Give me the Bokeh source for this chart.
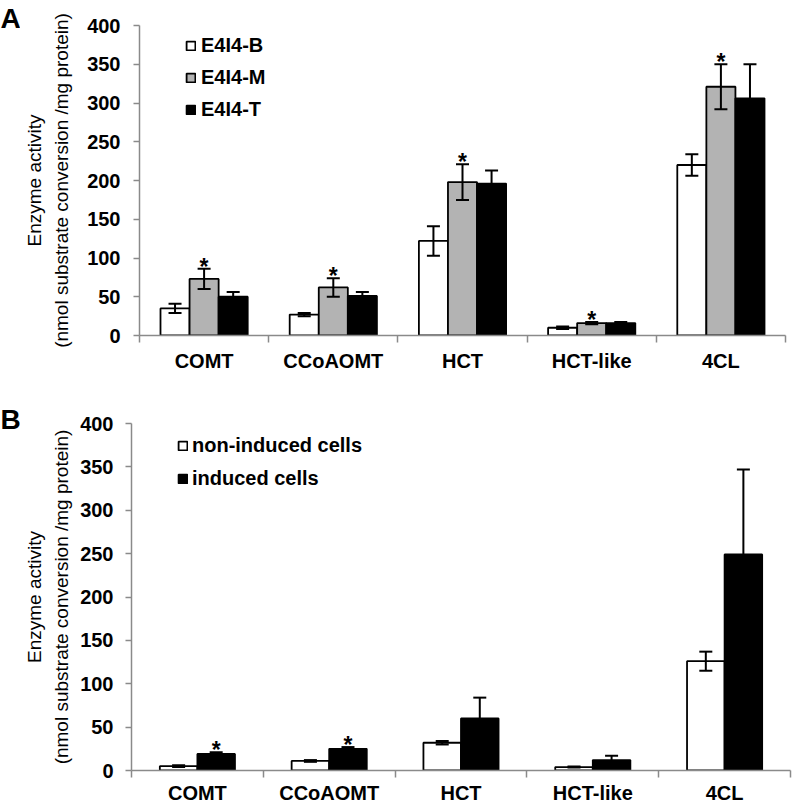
import numpy as np
from bokeh.plotting import figure
from bokeh.models import (ColumnDataSource, Range1d, FixedTicker, Whisker, TeeHead,
                          Legend, LegendItem)
from bokeh.layouts import column, row
from bokeh.embed import file_html
from bokeh.resources import INLINE
from bokeh.core.properties import value

# ---------------- data ----------------
categories = ["COMT", "CCoAOMT", "HCT", "HCT-like", "4CL"]
y_ticks = [0, 50, 100, 150, 200, 250, 300, 350, 400]
y_label = "Enzyme activity\n(nmol substrate conversion /mg protein)"
panel_letters = ["A", "B"]

# Panel A
a_labels = ["E4I4-B", "E4I4-M", "E4I4-T"]
a_mean_b = [35, 27, 122, 10, 220]
a_err_b = [6, 2, 19, 1.5, 14]
a_mean_m = [73, 62, 198, 16, 321]
a_err_m = [13, 12, 23, 1.5, 29]
a_mean_t = [50, 51, 196, 16, 306]
a_err_t = [6, 5, 17, 1.5, 44]
a_star_m = [True, True, True, True, True]

# Panel B
b_labels = ["non-induced cells", "induced cells"]
b_mean_non = [5, 11, 32, 4, 126]
b_err_non = [1, 1, 2, 0.5, 11]
b_mean_ind = [19, 25, 60, 12, 249]
b_err_ind = [2, 2, 24, 5, 98]
b_star_ind = [True, True, False, False, False]

FONT = "Liberation Sans"
AXIS_GREY = "#8a8a8a"
GREY_FILL = "#b3b3b3"
LETTER_W = 20


def base_fig(height, left, top, bottom, right, tick_standoff, label_standoff, x_standoff):
    n = len(categories)
    p = figure(width=794 - LETTER_W, height=height, x_range=Range1d(0, n), y_range=Range1d(0, 400),
               output_backend="svg", toolbar_location=None,
               min_border_left=left, min_border_top=top, min_border_bottom=bottom,
               min_border_right=right)
    p.grid.visible = False
    p.outline_line_color = None

    xa = p.xaxis[0]
    xa.ticker = FixedTicker(ticks=[i + 0.5 for i in range(n)], minor_ticks=list(range(n + 1)))
    xa.major_label_overrides = {i + 0.5: c for i, c in enumerate(categories)}
    xa.major_tick_line_color = None
    xa.major_tick_out = 0
    xa.major_tick_in = 0
    xa.minor_tick_out = 7
    xa.minor_tick_in = 0
    xa.minor_tick_line_color = AXIS_GREY
    xa.minor_tick_line_width = 1.5
    xa.axis_line_color = AXIS_GREY
    xa.axis_line_width = 1.5
    xa.major_label_text_font = FONT
    xa.major_label_text_font_style = "bold"
    xa.major_label_text_font_size = "20px"
    xa.major_label_text_color = "black"
    xa.major_label_standoff = x_standoff

    ya = p.yaxis[0]
    ya.ticker = FixedTicker(ticks=y_ticks, minor_ticks=[])
    ya.major_tick_out = 6
    ya.major_tick_in = 0
    ya.major_tick_line_color = AXIS_GREY
    ya.major_tick_line_width = 1.5
    ya.minor_tick_line_color = None
    ya.axis_line_color = AXIS_GREY
    ya.axis_line_width = 1.5
    ya.major_label_text_font = FONT
    ya.major_label_text_font_style = "bold"
    ya.major_label_text_font_size = "20px"
    ya.major_label_text_color = "black"
    ya.major_label_standoff = tick_standoff
    ya.axis_label = y_label
    ya.axis_label_text_font = FONT
    ya.axis_label_text_font_style = "normal"
    ya.axis_label_text_font_size = "19px"
    ya.axis_label_text_line_height = 1.3
    ya.axis_label_text_color = "black"
    ya.axis_label_standoff = label_standoff
    return p


def letter_fig(height, letter, top_gap):
    f = figure(width=LETTER_W, height=height, x_range=Range1d(0, LETTER_W), y_range=Range1d(0, height),
               x_axis_type=None, y_axis_type=None,
               output_backend="svg", toolbar_location=None,
               min_border_left=0, min_border_right=0, min_border_top=0, min_border_bottom=0)
    f.grid.visible = False
    f.outline_line_color = None
    f.text(x=[0], y=[height - top_gap], text=[letter], text_baseline="top", text_align="left",
           text_font=value(FONT), text_font_style="bold", text_font_size="28px", text_color="black")
    return f


def add_series(p, means, errs, offset, width, fill):
    x = np.arange(len(categories)) + 0.5 + offset
    m = np.array(means, dtype=float)
    e = np.array(errs, dtype=float)
    src = ColumnDataSource(dict(x=x, top=m, upper=m + e, lower=m - e))
    r = p.vbar(x="x", top="top", bottom=0, width=width, source=src,
               fill_color=fill, line_color="black", line_width=1.8)
    w = Whisker(source=src, base="x", upper="upper", lower="lower",
                line_color="black", line_width=2, level="annotation",
                upper_head=TeeHead(size=13, line_color="black", line_width=2),
                lower_head=TeeHead(size=13, line_color="black", line_width=2))
    p.add_layout(w)
    return r, src


def add_stars(p, src, flags):
    d = src.data
    xs = [d["x"][i] for i in range(len(flags)) if flags[i]]
    ys = [d["upper"][i] for i in range(len(flags)) if flags[i]]
    ss = ColumnDataSource(dict(x=xs, y=ys, t=["*"] * len(xs)))
    p.text(x="x", y="y", text="t", source=ss, text_align="center", text_baseline="middle",
           text_font=value(FONT), text_font_style="bold", text_font_size="23px",
           text_color="black", y_offset=-2)


def make_legend(p, items, loc, spacing, standoff):
    lg = Legend(items=items, location=loc, orientation="vertical",
                glyph_width=11, glyph_height=11, label_standoff=standoff,
                label_text_font=FONT, label_text_font_style="bold",
                label_text_font_size="20px", label_text_color="black",
                spacing=spacing, padding=0, margin=0,
                border_line_alpha=0, background_fill_alpha=0)
    p.add_layout(lg)


# ---------------- Panel A ----------------
HA = 374
pA = base_fig(HA, 136 - LETTER_W, 25, 39, 9, 13, 12, 7)
wA = 0.225
rAb, sAb = add_series(pA, a_mean_b, a_err_b, -wA, wA, "white")
rAm, sAm = add_series(pA, a_mean_m, a_err_m, 0.0, wA, GREY_FILL)
rAt, sAt = add_series(pA, a_mean_t, a_err_t, wA, wA, "black")
add_stars(pA, sAm, a_star_m)
make_legend(pA, [LegendItem(label=a_labels[0], renderers=[rAb]),
                 LegendItem(label=a_labels[1], renderers=[rAm]),
                 LegendItem(label=a_labels[2], renderers=[rAt])],
            (46, 214), 9, 5)
fA = letter_fig(HA, panel_letters[0], 2)

# ---------------- Panel B ----------------
HB = 432
pB = base_fig(HB, 127 - LETTER_W, 49, 35, 4, 12, 5, 4)
wB = 0.285
rBn, sBn = add_series(pB, b_mean_non, b_err_non, -wB / 2, wB, "white")
rBi, sBi = add_series(pB, b_mean_ind, b_err_ind, wB / 2, wB, "black")
add_stars(pB, sBi, b_star_ind)
make_legend(pB, [LegendItem(label=b_labels[0], renderers=[rBn]),
                 LegendItem(label=b_labels[1], renderers=[rBi])],
            (46, 280), 10, 4)
fB = letter_fig(HB, panel_letters[1], 29)

layout = column(row(column(fA), pA, spacing=0), row(column(fB), pB, spacing=0), spacing=0)
open("out.html", "w").write(file_html(layout, INLINE))
